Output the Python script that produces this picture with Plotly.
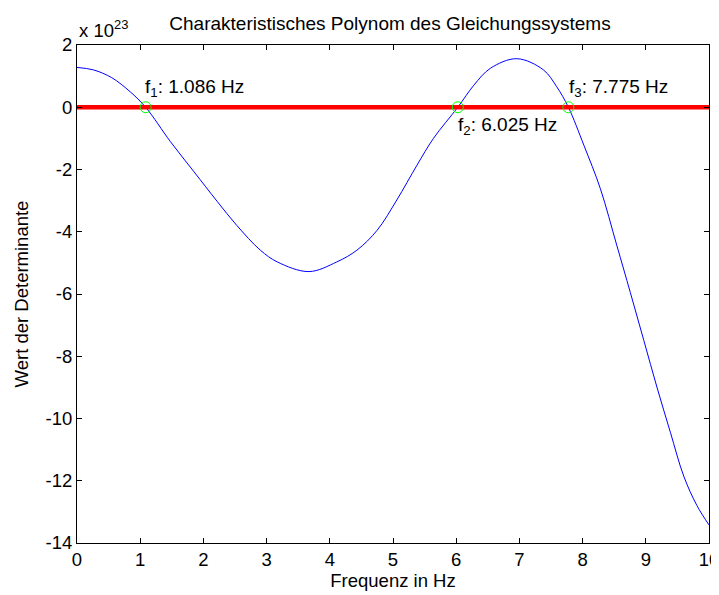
import plotly.graph_objects as go

# Frequency (Hz) and determinant value (in units of 1e23)
freq = [0.0, 0.26, 0.55, 0.84, 1.086, 1.48, 1.85, 2.22, 2.53, 2.90, 3.17, 3.67,
        4.11, 4.43, 4.75, 5.06, 5.38, 5.64, 6.025, 6.28, 6.54, 6.96, 7.38, 7.59,
        7.775, 8.02, 8.28, 8.54, 8.755, 8.97, 9.18, 9.39, 9.60, 9.81, 10.0]
det_val = [1.28, 1.20, 0.95, 0.50, 0.0, -1.11, -2.07, -3.03, -3.80, -4.59, -4.97, -5.28,
           -4.97, -4.59, -3.95, -2.98, -1.86, -1.00, 0.0, 0.71, 1.25, 1.56, 1.20, 0.66,
           0.0, -1.22, -2.61, -4.43, -5.95, -7.50, -9.02, -10.45, -11.85, -12.80, -13.42]

zero_x = [0, 10]
zero_y = [0, 0]

roots = [1.086, 6.025, 7.775]
root_vals = [0, 0, 0]
root_names = ["f<sub>1</sub>: 1.086 Hz", "f<sub>2</sub>: 6.025 Hz", "f<sub>3</sub>: 7.775 Hz"]
label_pos = [(1.04, 0.62), (6.0, -0.6), (7.76, 0.62)]

x_ticks = list(range(0, 11))
x_tick_text = [str(v) for v in x_ticks]
y_ticks = list(range(-14, 3, 2))
y_tick_text = [str(v) for v in y_ticks]

FONT = "Liberation Sans, Arial, Helvetica, sans-serif"
FS = 18.5

# The page body has an 8px default margin, so the figure is sized to fit the 719x595 window
W, H = 711, 587

fig = go.Figure()
fig.add_trace(go.Scatter(x=freq, y=det_val, mode="lines",
                         line=dict(color="#0000ff", width=1, shape="spline", smoothing=1.0),
                         showlegend=False, hoverinfo="skip"))
fig.add_trace(go.Scatter(x=zero_x, y=zero_y, mode="lines", line=dict(color="#ff0000", width=4.5),
                         showlegend=False, hoverinfo="skip"))
fig.add_trace(go.Scatter(x=roots, y=root_vals, mode="markers",
                         marker=dict(symbol="circle-open", size=11, color="#00ff00",
                                     line=dict(width=1, color="#00ff00")),
                         showlegend=False, hoverinfo="skip"))

for name, (lx, ly) in zip(root_names, label_pos):
    fig.add_annotation(x=lx, y=ly, xref="x", yref="y", text=name, showarrow=False,
                       xanchor="left", yanchor="middle", font=dict(size=19, color="black", family=FONT))

fig.add_annotation(x=0, y=1.0, xref="paper", yref="paper", text="x 10<sup>23</sup>", showarrow=False,
                   xanchor="left", yanchor="bottom", yshift=2, font=dict(size=FS, color="black", family=FONT))

axis_common = dict(showline=True, linecolor="black", linewidth=1, mirror="ticks", ticks="inside",
                   ticklen=5, tickcolor="black", showgrid=False, zeroline=False, automargin=False,
                   ticklabeloverflow="allow",
                   tickfont=dict(size=FS, color="black", family=FONT))

fig.update_layout(
    width=W, height=H,
    margin=dict(l=69, r=10, t=37, b=52),
    paper_bgcolor="white", plot_bgcolor="white",
    title=dict(text="Charakteristisches Polynom des Gleichungssystems", x=382 / W, xanchor="center",
               y=1 - 15 / H, yanchor="middle", font=dict(size=19, color="black", family=FONT)),
    xaxis=dict(range=[0, 10], tickvals=x_ticks, ticktext=x_tick_text,
               title=dict(text="Frequenz in Hz", standoff=4, font=dict(size=FS, color="black", family=FONT)),
               **axis_common),
    yaxis=dict(range=[-14, 2], tickvals=y_ticks, ticktext=y_tick_text,
               title=dict(text="Wert der Determinante", standoff=12, font=dict(size=FS, color="black", family=FONT)),
               **axis_common),
)

fig.write_html("out.html")
